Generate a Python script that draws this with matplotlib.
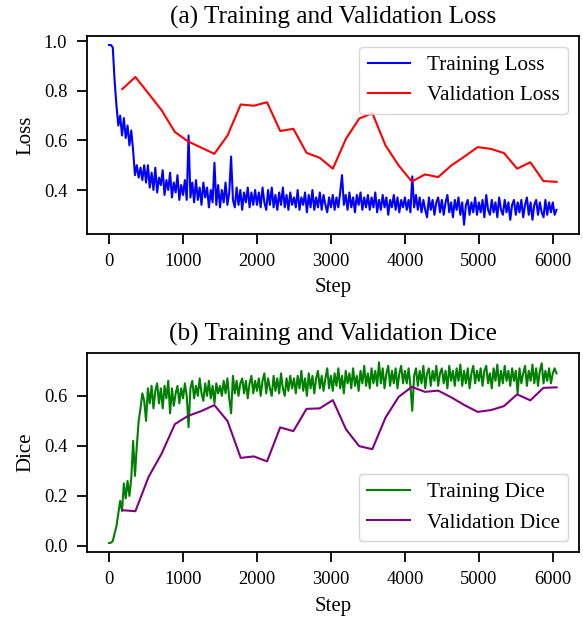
import numpy as np
import matplotlib
matplotlib.use("Agg")
import matplotlib.pyplot as plt

plt.rcParams['font.family'] = ['Liberation Serif', 'DejaVu Serif']
plt.rcParams['mathtext.fontset'] = 'stix'

# ---------------- data ----------------
train_steps = np.arange(0, 6051, 25)

train_loss = [
    0.985, 0.985, 0.975, 0.84, 0.74, 0.66, 0.70, 0.62, 0.69, 0.61, 0.66, 0.58, 0.64, 0.56, 0.46, 0.50, 0.45, 0.49, 0.44, 0.50,
    0.43, 0.50, 0.41, 0.47, 0.40, 0.49, 0.39, 0.45, 0.42, 0.48, 0.38, 0.44, 0.40, 0.47, 0.37, 0.43, 0.39, 0.46, 0.36, 0.42,
    0.38, 0.44, 0.36, 0.62, 0.37, 0.43, 0.35, 0.44, 0.36, 0.41, 0.34, 0.43, 0.37, 0.41, 0.33, 0.40, 0.35, 0.51, 0.34, 0.42,
    0.33, 0.40, 0.35, 0.43, 0.34, 0.39, 0.535, 0.36, 0.33, 0.41, 0.34, 0.40, 0.32, 0.39, 0.35, 0.41, 0.33, 0.39, 0.34, 0.40,
    0.34, 0.39, 0.33, 0.41, 0.35, 0.32, 0.40, 0.34, 0.41, 0.33, 0.38, 0.32, 0.39, 0.34, 0.41, 0.33, 0.38, 0.32, 0.39, 0.34,
    0.37, 0.33, 0.40, 0.32, 0.37, 0.34, 0.39, 0.31, 0.38, 0.33, 0.40, 0.32, 0.37, 0.33, 0.39, 0.32, 0.38, 0.34, 0.31, 0.37,
    0.33, 0.38, 0.32, 0.37, 0.33, 0.39, 0.46, 0.34, 0.38, 0.32, 0.39, 0.33, 0.37, 0.31, 0.38, 0.34, 0.39, 0.32, 0.37, 0.33,
    0.38, 0.32, 0.37, 0.33, 0.39, 0.31, 0.36, 0.32, 0.38, 0.33, 0.37, 0.30, 0.36, 0.33, 0.38, 0.32, 0.37, 0.31, 0.36, 0.33,
    0.37, 0.32, 0.36, 0.31, 0.455, 0.33, 0.38, 0.32, 0.37, 0.31, 0.36, 0.32, 0.29, 0.37, 0.32, 0.36, 0.30, 0.35, 0.37, 0.31,
    0.36, 0.30, 0.35, 0.38, 0.31, 0.35, 0.29, 0.36, 0.32, 0.37, 0.30, 0.35, 0.26, 0.34, 0.36, 0.30, 0.35, 0.31, 0.37, 0.30,
    0.35, 0.31, 0.36, 0.29, 0.38, 0.32, 0.30, 0.36, 0.31, 0.35, 0.29, 0.37, 0.32, 0.30, 0.36, 0.31, 0.35, 0.28, 0.34, 0.36,
    0.30, 0.35, 0.31, 0.36, 0.29, 0.34, 0.37, 0.30, 0.35, 0.28, 0.34, 0.36, 0.30, 0.35, 0.31, 0.29, 0.36, 0.30, 0.35, 0.31,
    0.35, 0.30, 0.32,
]

train_dice = [
    0.012, 0.013, 0.02, 0.05, 0.08, 0.13, 0.18, 0.14, 0.25, 0.19, 0.26, 0.20, 0.27, 0.42, 0.28, 0.40, 0.50, 0.55, 0.61, 0.58,
    0.50, 0.63, 0.57, 0.64, 0.55, 0.62, 0.65, 0.57, 0.63, 0.55, 0.64, 0.59, 0.66, 0.53, 0.63, 0.56, 0.61, 0.64, 0.57, 0.63,
    0.59, 0.65, 0.60, 0.475, 0.63, 0.66, 0.59, 0.64, 0.60, 0.67, 0.61, 0.58, 0.65, 0.60, 0.66, 0.59, 0.64, 0.57, 0.65, 0.61,
    0.64, 0.60, 0.66, 0.61, 0.67, 0.59, 0.53, 0.68, 0.61, 0.66, 0.60, 0.65, 0.67, 0.61, 0.66, 0.59, 0.65, 0.68, 0.61, 0.66,
    0.62, 0.67, 0.60, 0.66, 0.69, 0.61, 0.67, 0.63, 0.60, 0.68, 0.62, 0.67, 0.61, 0.69, 0.63, 0.60, 0.67, 0.62, 0.68, 0.63,
    0.67, 0.61, 0.68, 0.63, 0.70, 0.62, 0.67, 0.60, 0.69, 0.63, 0.68, 0.61, 0.67, 0.70, 0.63, 0.68, 0.62, 0.67, 0.71, 0.63,
    0.68, 0.62, 0.69, 0.64, 0.71, 0.63, 0.68, 0.61, 0.70, 0.65, 0.69, 0.63, 0.71, 0.64, 0.68, 0.62, 0.70, 0.65, 0.72, 0.64,
    0.69, 0.63, 0.71, 0.65, 0.70, 0.64, 0.734, 0.65, 0.71, 0.63, 0.69, 0.72, 0.64, 0.70, 0.65, 0.71, 0.63, 0.69, 0.72, 0.65,
    0.70, 0.65, 0.71, 0.64, 0.54, 0.68, 0.71, 0.64, 0.70, 0.65, 0.72, 0.63, 0.69, 0.71, 0.64, 0.70, 0.66, 0.72, 0.64, 0.69,
    0.71, 0.65, 0.70, 0.63, 0.72, 0.66, 0.70, 0.64, 0.71, 0.66, 0.725, 0.64, 0.70, 0.65, 0.71, 0.63, 0.69, 0.72, 0.65, 0.70,
    0.66, 0.71, 0.64, 0.70, 0.72, 0.65, 0.69, 0.63, 0.71, 0.66, 0.725, 0.64, 0.70, 0.65, 0.72, 0.66, 0.70, 0.64, 0.71, 0.66,
    0.70, 0.61, 0.71, 0.65, 0.69, 0.72, 0.64, 0.70, 0.66, 0.725, 0.65, 0.71, 0.64, 0.70, 0.73, 0.65, 0.70, 0.66, 0.71, 0.65,
    0.69, 0.71, 0.69,
]

val_steps = np.arange(1, 35) * 178

val_loss = [0.807, 0.856, 0.789, 0.721, 0.634, 0.596, 0.571, 0.546, 0.620, 0.745,
            0.740, 0.754, 0.638, 0.647, 0.550, 0.530, 0.486, 0.607, 0.688, 0.710,
            0.580, 0.499, 0.434, 0.463, 0.452, 0.499, 0.535, 0.573, 0.566, 0.549,
            0.486, 0.512, 0.436, 0.433]

val_dice = [0.143, 0.139, 0.276, 0.370, 0.487, 0.520, 0.539, 0.563, 0.499, 0.352,
            0.358, 0.338, 0.474, 0.459, 0.548, 0.550, 0.583, 0.466, 0.399, 0.387,
            0.513, 0.596, 0.636, 0.616, 0.621, 0.594, 0.563, 0.536, 0.543, 0.559,
            0.606, 0.582, 0.632, 0.634]

xticks = [0, 1000, 2000, 3000, 4000, 5000, 6000]

# ---------------- figure ----------------
W, H = 583, 622
fig = plt.figure(figsize=(W / 100, H / 100), dpi=100)

def px_axes(l, t, r, b):
    return fig.add_axes([l / W, 1 - b / H, (r - l) / W, (b - t) / H])

ax1 = px_axes(86.7, 36, 579, 233.7)
ax2 = px_axes(86.7, 353.3, 579, 552)

TICK = 13.3
LAB = 15
LEG = 15.3
TIT = 18.2

ax1.plot(train_steps, train_loss, color='blue', lw=1.5, label='Training Loss')
ax1.plot(val_steps, val_loss, color='red', lw=1.5, label='Validation Loss')
ax1.set_title('(a) Training and Validation Loss', fontsize=TIT, pad=9)
ax1.set_xlabel('Step', fontsize=LAB, labelpad=6)
ax1.set_ylabel('Loss', fontsize=LAB, labelpad=6)
ax1.set_yticks([0.4, 0.6, 0.8, 1.0])
ax1.legend(loc='upper right', fontsize=LEG)

ax2.plot(train_steps, train_dice, color='green', lw=1.5, label='Training Dice')
ax2.plot(val_steps, val_dice, color='purple', lw=1.5, label='Validation Dice')
ax2.set_title('(b) Training and Validation Dice', fontsize=TIT, pad=9)
ax2.set_xlabel('Step', fontsize=LAB, labelpad=6)
ax2.set_ylabel('Dice', fontsize=LAB, labelpad=6)
ax2.set_yticks([0.0, 0.2, 0.4, 0.6])
ax2.legend(loc='lower right', fontsize=LEG)

for ax in (ax1, ax2):
    ax.set_xticks(xticks)
    ax.tick_params(labelsize=TICK, width=1.3, length=7, pad=7)
    for s in ax.spines.values():
        s.set_linewidth(1.3)

fig.savefig('out.png', dpi=100)
